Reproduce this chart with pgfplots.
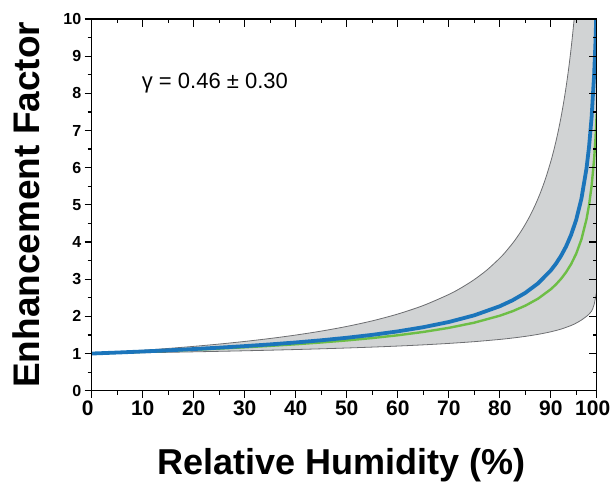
\documentclass[border=0pt]{standalone}
\usepackage{fontspec}
\setmainfont{Liberation Sans}
\usepackage{pgfplots}
\pgfplotsset{compat=1.18}
\definecolor{bandfill}{HTML}{D1D3D4}
\definecolor{bandline}{HTML}{6D6E71}
\definecolor{fitblue}{HTML}{1B75BB}
\definecolor{fitgreen}{HTML}{6DBE45}

\begin{document}
\begin{tikzpicture}
\begin{axis}[
    name=ax,
    scale only axis,
    width=505pt, height=371.7pt,
    xmin=0, xmax=99, ymin=0, ymax=10,
    xtick={0,10,20,30,40,50,60,70,80,90,99},
    xticklabels={\hspace*{-8pt}0,10,20,30,40,50,60,70,80,90,\hspace*{-8pt}100},
    minor xtick={5,15,25,35,45,55,65,75,85,95},
    ytick={0,1,2,3,4,5,6,7,8,9,10},
    yticklabels={0,1,2,3,4,5,6,7,8,9,10},
    minor ytick={0.5,1.5,2.5,3.5,4.5,5.5,6.5,7.5,8.5,9.5},
    xtick pos=bottom, ytick pos=left, tick align=outside,
    major tick length=7pt, minor tick length=4pt,
    tick style={black, line width=1.2pt},
    axis line style={line width=1.5pt},
    xticklabel style={font=\fontsize{21}{21}\selectfont\bfseries},
    yticklabel style={font=\fontsize{16}{16}\selectfont\bfseries},
    xlabel={Relative Humidity (\%)},
    ylabel={Enhancement Factor},
    xlabel style={font=\fontsize{36}{36}\selectfont\bfseries, at={(axis description cs:0.4956,-0.2241)}, anchor=base, inner sep=0pt},
    ylabel style={font=\fontsize{37}{37}\selectfont\bfseries, at={(axis description cs:-0.1024,0.5)}, anchor=south, inner sep=0pt},
]
% uncertainty band
\addplot[fill=bandfill, draw=none] coordinates {
 (0,1) (5,1.0414) (10,1.0868) (15,1.1370) (20,1.1928) (25,1.2552) (30,1.3255)
 (35,1.4054) (40,1.4971) (45,1.6037) (50,1.7290) (55,1.8792) (60,2.0625)
 (65,2.2918) (70,2.5887) (72.5,2.7728) (75,2.9897) (77.5,3.2491) (80,3.5661)
 (81,3.7135) (82.5,3.9628) (83,4.0544) (84,4.2537) (85,4.4765) (86,4.7270)
 (87,5.0119) (88,5.3390) (89,5.7188) (90,6.1661) (90.5,6.4210) (91,6.7013)
 (91.5,7.0108) (92,7.3543) (92.5,7.7397) (93,8.1723) (93.5,8.6662) (94,9.2311)
 (94.5,9.8886) (95,10.661) (95.5,11.587) (96,12.717) (99,12.717)
 (99,2.68) (98.5,2.32) (98,2.14) (97.5,2.06) (97,2.00) (96,1.90) (95,1.8206)
 (94,1.7553) (92,1.6572) (90,1.5849) (87.5,1.5157) (85,1.4614) (82.5,1.4171)
 (80,1.3797) (75,1.3195) (70,1.2723) (65,1.2336) (60,1.2011) (55,1.1732)
 (50,1.1487) (45,1.1270) (40,1.1076) (35,1.0900) (30,1.0739) (25,1.0592)
 (20,1.0456) (15,1.0330) (10,1.0213) (5,1.0103) (0,1)
};
% upper limit
\addplot[bandline, line width=0.8pt, smooth] coordinates {
 (0,1) (5,1.0414) (10,1.0868) (15,1.1370) (20,1.1928) (25,1.2552) (30,1.3255)
 (35,1.4054) (40,1.4971) (45,1.6037) (50,1.7290) (55,1.8792) (60,2.0625)
 (65,2.2918) (70,2.5887) (72.5,2.7728) (75,2.9897) (77.5,3.2491) (80,3.5661)
 (81,3.7135) (82.5,3.9628) (83,4.0544) (84,4.2537) (85,4.4765) (86,4.7270)
 (87,5.0119) (88,5.3390) (89,5.7188) (90,6.1661) (90.5,6.4210) (91,6.7013)
 (91.5,7.0108) (92,7.3543) (92.5,7.7397) (93,8.1723) (93.5,8.6662) (94,9.2311)
 (94.5,9.8886) (95,10.661) (95.5,11.587) (96,12.717)
};
% lower limit
\addplot[bandline, line width=0.8pt, smooth] coordinates {
 (0,1) (5,1.0103) (10,1.0213) (15,1.0330) (20,1.0456) (25,1.0592) (30,1.0739)
 (35,1.0900) (40,1.1076) (45,1.1270) (50,1.1487) (55,1.1732) (60,1.2011)
 (65,1.2336) (70,1.2723) (75,1.3195) (80,1.3797) (82.5,1.4171) (85,1.4614)
 (87.5,1.5157) (90,1.5849) (92,1.6572) (94,1.7553) (95,1.8206) (96,1.90)
 (97,2.00) (97.5,2.06) (98,2.14) (98.5,2.32) (99,2.68)
};
% green curve
\addplot[fitgreen, line width=2.4pt] coordinates {
 (0,1) (5,1.0226) (10,1.0470) (15,1.0734) (20,1.1022) (25,1.1336) (30,1.1683)
 (35,1.2066) (40,1.2495) (45,1.2978) (50,1.3528) (55,1.4164) (60,1.4911)
 (65,1.5805) (70,1.6903) (75,1.8303) (80,2.0173) (82.5,2.1381) (85,2.2868)
 (87.5,2.4760) (90,2.7290) (91,2.8573) (92,3.0079) (93,3.1882) (94,3.4098)
 (95,3.6920) (96,4.0692) (97,4.6132) (97.5,4.9948) (98,5.5048) (98.5,6.2407)
 (98.75,6.7573) (99,7.4477)
};
% blue curve
\addplot[fitblue, line width=3.8pt] coordinates {
 (0,1) (5,1.0265) (10,1.0552) (15,1.0864) (20,1.1205) (25,1.1580) (30,1.1995)
 (35,1.2457) (40,1.2976) (45,1.3565) (50,1.4241) (55,1.5027) (60,1.5957)
 (65,1.7081) (70,1.8479) (75,2.0280) (80,2.2724) (82.5,2.4325) (85,2.6315)
 (87.5,2.8878) (90,3.2360) (91,3.4146) (92,3.6260) (93,3.8816) (94,4.1992)
 (95,4.6084) (96,5.1635) (97,5.9799) (97.5,6.5624) (98,7.3531) (98.5,8.5150)
 (98.75,9.3455) (99,10.472)
};
\node[anchor=base west, inner sep=0pt, font=\fontsize{22}{22}\selectfont] at (axis cs:9.8,8.13) {γ = 0.46 ± 0.30};
\end{axis}
\begin{axis}[
    at={(ax.south west)}, anchor=south west,
    scale only axis,
    width=505pt, height=371.7pt,
    xmin=0, xmax=99, ymin=0, ymax=10,
    xtick={0,10,20,30,40,50,60,70,80,90,99},
    minor xtick={5,15,25,35,45,55,65,75,85,95},
    ytick={0,1,2,3,4,5,6,7,8,9,10},
    minor ytick={0.5,1.5,2.5,3.5,4.5,5.5,6.5,7.5,8.5,9.5},
    xticklabels={}, yticklabels={},
    xtick pos=top, ytick pos=right, tick align=inside,
    major tick length=8pt, minor tick length=4pt,
    tick style={black, line width=1.2pt},
    axis line style={line width=1.5pt},
]
\end{axis}
\pgfresetboundingbox
\path[use as bounding box] ([shift={(-91.7pt,-95.3pt)}]ax.south west) rectangle ([shift={(15.3pt,19pt)}]ax.north east);
\end{tikzpicture}
\end{document}
